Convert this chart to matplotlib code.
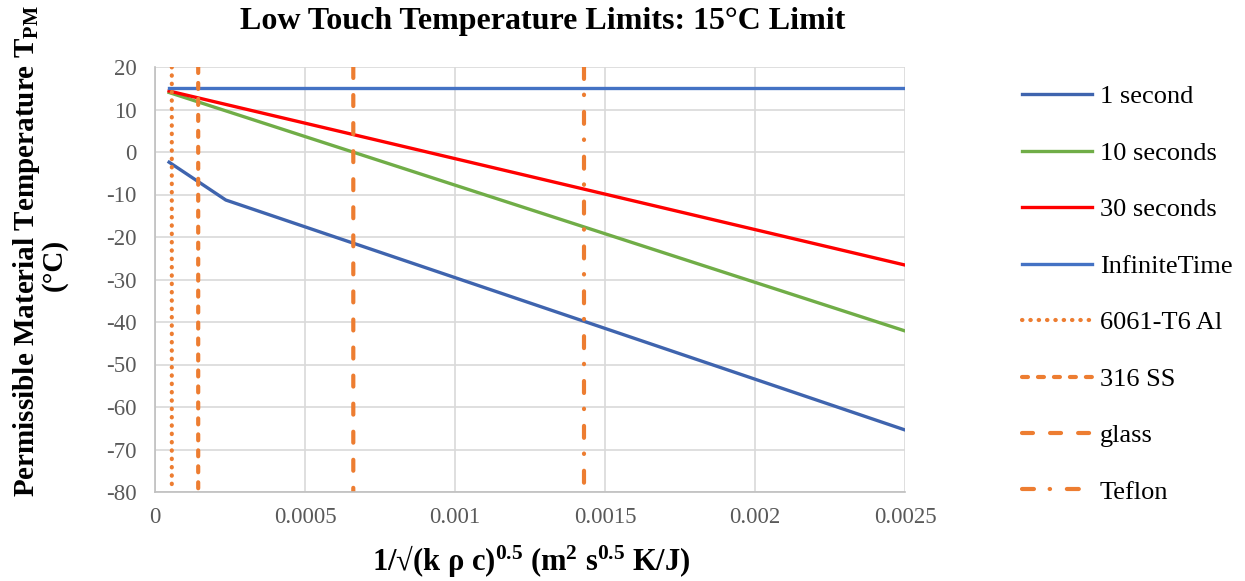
import matplotlib.pyplot as plt
import numpy as np

# --- dados ---
x_1s = [4.7e-5, 2.36e-4, 0.0025]
y_1s = [-2.4, -11.3, -65.4]

x_10s = [4.7e-5, 0.0025]
y_10s = [14.0, -42.1]

x_30s = [4.7e-5, 0.0025]
y_30s = [14.35, -26.6]

x_inf = [4.7e-5, 0.0025]
y_inf = [15.0, 15.0]

# posições dos materiais (linhas verticais)
materials = ['6061-T6 Al', '316 SS', 'glass', 'Teflon']
material_x = [5.6e-5, 1.44e-4, 6.61e-4, 1.43e-3]

x_ticks = [0, 0.0005, 0.001, 0.0015, 0.002, 0.0025]
y_ticks = [20, 10, 0, -10, -20, -30, -40, -50, -60, -70, -80]

plt.rcParams['font.family'] = ['Liberation Serif', 'DejaVu Serif']
plt.rcParams['mathtext.fontset'] = 'custom'
plt.rcParams['mathtext.rm'] = 'Liberation Serif'
plt.rcParams['mathtext.bf'] = 'Liberation Serif:bold'
plt.rcParams['lines.scale_dashes'] = False
plt.rcParams['axes.unicode_minus'] = False

fig = plt.figure(figsize=(12.45, 5.81), dpi=100)
ax = fig.add_axes([155 / 1245, 1 - 492 / 581, 750 / 1245, 425 / 581])

orange = '#ED7D31'
lw = 2.4
vlw = 3.0

ax.plot(x_1s, y_1s, color='#3F64AE', lw=lw, label='1 second')
ax.plot(x_10s, y_10s, color='#70AD47', lw=lw, label='10 seconds')
ax.plot(x_30s, y_30s, color='#FF0000', lw=lw, label='30 seconds')
ax.plot(x_inf, y_inf, color='#4472C4', lw=lw, label='InfiniteTime')

# padrões de traço (em pontos, com pontas arredondadas)
styles = [(0, (0.3, 5.7)),
          (0, (4.3, 7.2)),
          (0, (7.9, 12.3)),
          (0, (8.6, 11.3, 0.3, 12.1))]
for name, xv, ls in zip(materials, material_x, styles):
    ax.plot([xv, xv], [20, -80], color=orange, lw=vlw, linestyle=ls,
            dash_capstyle='round', snap=False, label=name)

ax.set_xlim(0, 0.0025)
ax.set_ylim(-80, 20)
ax.set_xticks(x_ticks)
ax.set_xticklabels(['%g' % t for t in x_ticks])
ax.set_yticks(y_ticks)
ax.grid(True, color='#D9D9D9', lw=1.2)
ax.set_axisbelow(True)
for s in ['top', 'right']:
    ax.spines[s].set_visible(False)
for s in ['left', 'bottom']:
    ax.spines[s].set_color('#BFBFBF')
    ax.spines[s].set_linewidth(1.2)
ax.tick_params(length=0, labelsize=16.5, colors='#595959')
ax.tick_params(axis='y', pad=13)
ax.tick_params(axis='x', pad=11)

fig.text(543 / 1245, 1 - 22 / 581, 'Low Touch Temperature Limits: 15°C Limit',
         ha='center', va='center', fontsize=23, fontweight='bold')
fig.text(531 / 1245, 1 - 562 / 581,
         r'1/√(k ρ c)$\mathbf{^{0.5}}$ (m$\mathbf{^{2}}$ s$\mathbf{^{0.5}}$ K/J)',
         ha='center', va='center', fontsize=22, fontweight='bold')
fig.text(27 / 1245, 1 - 251 / 581, r'Permissible Material Temperature T$\mathbf{_{PM}}$',
         ha='center', va='center', rotation=90, fontsize=21, fontweight='bold')
fig.text(54 / 1245, 1 - 265 / 581, '(°C)',
         ha='center', va='center', rotation=90, fontsize=21, fontweight='bold')

fig.legend(loc='upper left', bbox_to_anchor=(1022 / 1245, 1 - 85 / 581),
           frameon=False, fontsize=19, handlelength=2.65, handletextpad=0.3,
           labelspacing=1.25, borderpad=0, borderaxespad=0)

fig.savefig('out.png', dpi=100)
